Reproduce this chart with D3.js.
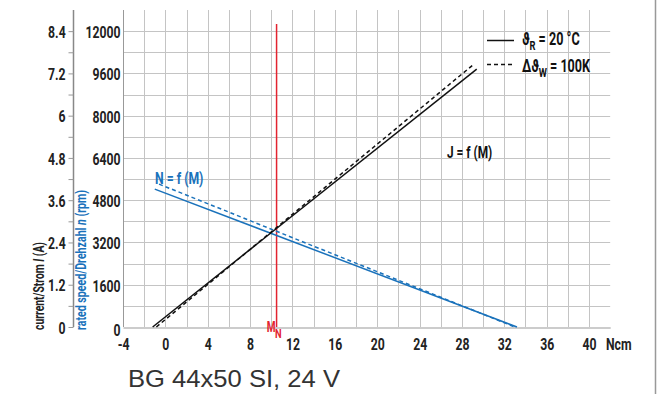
<!DOCTYPE html>
<html><head><meta charset="utf-8">
<script src="https://cdn.jsdelivr.net/npm/d3@7"></script>
<style>
body{margin:0;background:#fff}
.tk text{font-family:Roboto,sans-serif;font-weight:bold;font-size:17px;fill:#222}
.nar{font-family:Roboto,sans-serif;font-weight:bold}
</style>
</head><body><svg id="c" width="666" height="394"></svg>
<script>
// ---- data ----
const torqueTicks = [-4,0,4,8,12,16,20,24,28,32,36,40];
const rpmTickValues = [0,1600,3200,4800,6400,8000,9600,11200];
const rpmTickLabels = ["0","1600","3200","4800","6400","8000","9600","12000"];
const currentTickValues = [0,0.6,1.2,1.8,2.4,3.0,3.6,4.2,4.8,5.4,6,6.6,7.2,7.8,8.4];
const currentTickLabels = {"0":"0","1.2":"1.2","2.4":"2.4","3.6":"3.6","4.8":"4.8","6":"6","7.2":"7.2","8.4":"8.4"};
// current J = f(M)
const torqueJ20 = [-1.2, 29.4];
const currentJ20 = [0, 7.32];
const torqueJ100 = [-0.85, 29.0];
const currentJ100 = [0, 7.43];
// speed N = f(M)
const torqueN20 = [-1.0, 33.2];
const speedN20 = [5220, 0];
const torqueN100 = [-0.6, 33.0];
const speedN100 = [5410, 0];
const ratedTorque = 10.5;

// ---- chart ----
const svg = d3.select("#c");
const x = d3.scaleLinear([-4, 42], [123, 610.2]);
const yN = d3.scaleLinear([0, 12000], [327, 10]);
const yI = d3.scaleLinear([0, 9], [327, 10]);
const blue = "#1a72bb", red = "#e3232f";
const SQ = 0.72;
function squeeze(sel, origin) {
  sel.style("transform-box", "fill-box").style("transform-origin", origin).style("transform", `scaleX(${SQ})`);
  return sel;
}

// grid
const g = svg.append("g");
g.selectAll("line.v").data(d3.range(-2, 41, 2)).join("line")
  .attr("x1", d => Math.round(x(d)) + 0.5).attr("x2", d => Math.round(x(d)) + 0.5)
  .attr("y1", yN(12000)).attr("y2", yN(0)).attr("stroke", "#c4c4c4");
g.selectAll("line.h").data(d3.range(800, 11201, 800)).join("line")
  .attr("x1", x(-4)).attr("x2", x(42))
  .attr("y1", d => Math.round(yN(d)) + 0.5).attr("y2", d => Math.round(yN(d)) + 0.5).attr("stroke", "#c4c4c4");

// x axis
const xa = svg.append("g").attr("class", "tk").attr("transform", "translate(0,327.5)")
  .call(d3.axisBottom(x).tickValues(torqueTicks).tickSize(0).tickPadding(10).tickFormat(d => String(d)));
xa.select(".domain").attr("stroke", "#999").attr("stroke-width", 1.2);
xa.selectAll("text").attr("dy", "0.71em");
squeeze(xa.selectAll(".tick text"), "50% 50%");
squeeze(xa.append("text").attr("x", x(41.6)).attr("y", 10).attr("dy", "0.71em").attr("text-anchor", "start").text("Ncm"), "0% 50%");

// rpm axis
const ra = svg.append("g").attr("class", "tk").attr("transform", "translate(123.5,0)")
  .call(d3.axisLeft(yN).tickValues(rpmTickValues).tickSize(0).tickPadding(3).tickFormat((d, i) => rpmTickLabels[i]));
ra.select(".domain").attr("stroke", "#999").attr("d", `M0,${yN(12000)}V${yN(0)}`);
ra.selectAll("text").attr("dy", (d) => d === 0 ? "0.5em" : "0.38em");
squeeze(ra.selectAll(".tick text"), "100% 50%");

// current axis
const ca = svg.append("g").attr("class", "tk").attr("transform", "translate(73.5,0)")
  .call(d3.axisLeft(yI).tickValues(currentTickValues).tickSize(5).tickPadding(3)
    .tickFormat(d => currentTickLabels[String(+d.toFixed(1))] || ""));
ca.select(".domain").attr("stroke", "#888").attr("stroke-width", 1.5).attr("d", `M0,${yI(9)}V${yI(0)}`);
ca.selectAll(".tick line").attr("stroke", "#999");
ca.selectAll("text").attr("dy", "0.36em");
squeeze(ca.selectAll(".tick text"), "100% 50%");

// axis titles
const t1 = svg.append("text").attr("class", "nar").attr("font-size", 14).attr("fill", "#222")
  .attr("transform", "translate(44,330) rotate(-90)").attr("textLength", 88).attr("lengthAdjust", "spacingAndGlyphs");
t1.append("tspan").text("current/Strom ");
t1.append("tspan").attr("font-style", "italic").text("I");
t1.append("tspan").text(" (A)");
const t2 = svg.append("text").attr("class", "nar").attr("font-size", 14).attr("fill", blue)
  .attr("transform", "translate(86,330) rotate(-90)").attr("textLength", 140).attr("lengthAdjust", "spacingAndGlyphs");
t2.append("tspan").text("rated speed/Drehzahl ");
t2.append("tspan").attr("font-style", "italic").text("n");
t2.append("tspan").text(" (rpm)");

// rated torque line
svg.append("line").attr("x1", x(ratedTorque)).attr("x2", x(ratedTorque)).attr("y1", 24).attr("y2", yN(0))
  .attr("stroke", red).attr("stroke-width", 1.5);
squeeze(svg.append("text").attr("class", "nar").attr("font-size", 14).attr("fill", red)
  .attr("x", x(ratedTorque) - 1).attr("y", 332).attr("text-anchor", "end").text("M"), "100% 50%");
squeeze(svg.append("text").attr("class", "nar").attr("font-size", 13).attr("fill", red)
  .attr("x", x(ratedTorque) - 1.5).attr("y", 338.5).attr("text-anchor", "start").text("N"), "0% 50%");

// curves
const line2 = (xs, ys, ys2) => d3.line()(xs.map((m, i) => [x(m), ys2(ys[i])]));
svg.append("path").attr("d", line2(torqueN20, speedN20, yN)).attr("stroke", blue).attr("stroke-width", 1.5).attr("fill", "none");
svg.append("path").attr("d", line2(torqueN100, speedN100, yN)).attr("stroke", blue).attr("stroke-width", 1.5).attr("stroke-dasharray", "4,3").attr("fill", "none");
svg.append("path").attr("d", line2(torqueJ20, currentJ20, yI)).attr("stroke", "#111").attr("stroke-width", 1.5).attr("fill", "none");
svg.append("path").attr("d", line2(torqueJ100, currentJ100, yI)).attr("stroke", "#111").attr("stroke-width", 1.5).attr("stroke-dasharray", "4,3").attr("fill", "none");

// curve labels
squeeze(svg.append("text").attr("class", "nar").attr("font-size", 16.5).attr("fill", "#111").attr("x", 447).attr("y", 158).text("J = f (M)"), "0% 50%");
squeeze(svg.append("text").attr("class", "nar").attr("font-size", 17).attr("fill", blue).attr("x", 155).attr("y", 184.5).text("N = f (M)"), "0% 50%");

// legend
svg.append("line").attr("x1", 487).attr("x2", 514).attr("y1", 40.5).attr("y2", 40.5).attr("stroke", "#111").attr("stroke-width", 1.5);
svg.append("line").attr("x1", 487).attr("x2", 514).attr("y1", 64.5).attr("y2", 64.5).attr("stroke", "#111").attr("stroke-width", 1.5).attr("stroke-dasharray", "4,3");
const l1 = svg.append("text").attr("class", "nar").attr("font-size", 17.5).attr("fill", "#111").attr("x", 522).attr("y", 45);
l1.append("tspan").text("ϑ");
l1.append("tspan").attr("font-size", 13).attr("dy", 5).text("R");
l1.append("tspan").attr("dy", -5).text(" = 20 °C");
squeeze(l1, "0% 50%");
const l2 = svg.append("text").attr("class", "nar").attr("font-size", 17.5).attr("fill", "#111").attr("x", 522).attr("y", 72);
l2.append("tspan").text("Δϑ");
l2.append("tspan").attr("font-size", 13).attr("dy", 5).text("W");
l2.append("tspan").attr("dy", -5).text(" = 100K");
squeeze(l2, "0% 50%");

// title
svg.append("text").attr("x", 128).attr("y", 387).attr("font-family", "'Liberation Sans', Arial, sans-serif").attr("font-size", 24)
  .attr("textLength", 212).attr("lengthAdjust", "spacingAndGlyphs")
  .attr("fill", "#333").text("BG 44x50 SI, 24 V");

// right border
svg.append("line").attr("x1", 655.5).attr("x2", 655.5).attr("y1", 0).attr("y2", 394).attr("stroke", "#999").attr("stroke-width", 1.5);
</script>
</body></html>
